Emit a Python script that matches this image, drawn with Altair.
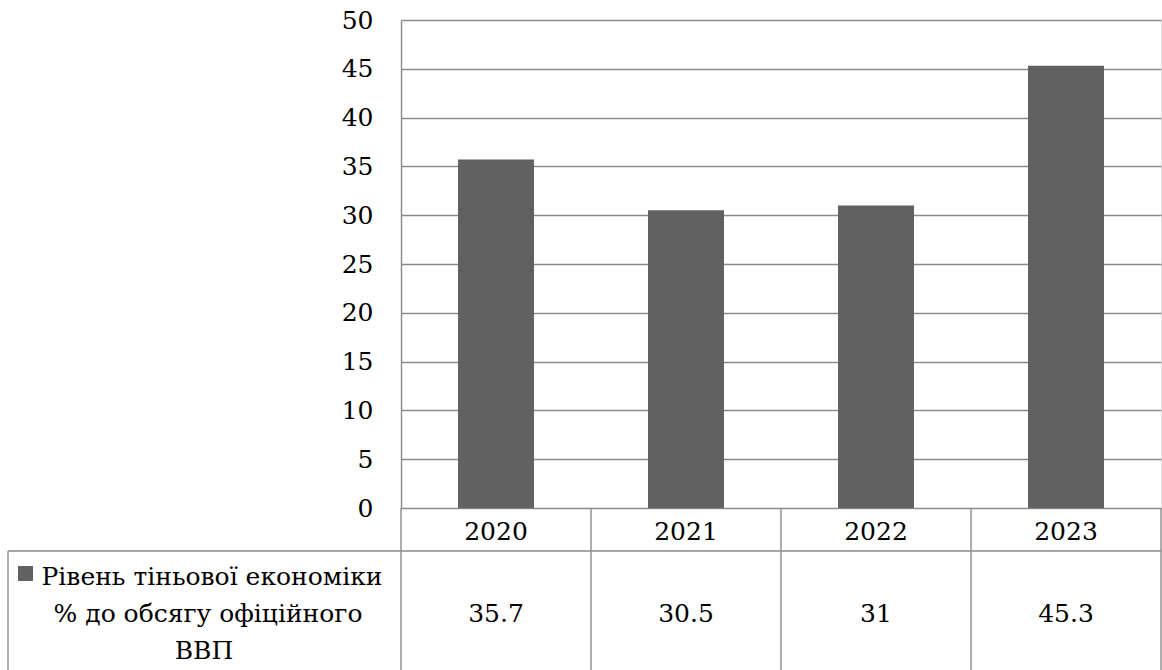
import altair as alt
import pandas as pd

years = ["2020", "2021", "2022", "2023"]
values = [35.7, 30.5, 31, 45.3]
value_labels = ["35.7", "30.5", "31", "45.3"]
series_lines = ["Рівень тіньової економіки", "% до обсягу офіційного", "ВВП"]
y_ticks = list(range(0, 51, 5))

df = pd.DataFrame({"year": years, "value": values, "label": value_labels})

FONT = "DejaVu Serif"
FS = 25
FS_LEG = 25
LINE = "#8a8a8a"
LW = 1.4
BAR = "#616161"

W, H = 760, 488
x_enc = alt.X("year:N", sort=years, scale=alt.Scale(paddingInner=0, paddingOuter=0), axis=None)

base = alt.Chart(df)

bars = base.mark_bar(color=BAR, width=alt.RelativeBandSize(0.4)).encode(
    x=x_enc,
    y=alt.Y("value:Q", scale=alt.Scale(domain=[0, 50]),
            axis=alt.Axis(values=y_ticks, grid=True, gridColor=LINE, gridWidth=LW,
                          domainColor=LINE, domainWidth=LW, ticks=False,
                          labelFont=FONT, labelFontSize=FS, labelColor="black",
                          labelPadding=28, title=None)),
)

header_text = base.mark_text(font=FONT, fontSize=FS, color="black", baseline="alphabetic").encode(
    x=x_enc, y=alt.value(540 - 20), text="year:N")
value_text = base.mark_text(font=FONT, fontSize=FS, color="black", baseline="alphabetic").encode(
    x=x_enc, y=alt.value(622 - 20), text="label:N")

def hrule(x1, x2, y):
    return alt.Chart(df.head(1)).mark_rule(color=LINE, strokeWidth=LW).encode(
        x=alt.value(x1), x2=alt.value(x2), y=alt.value(y))

def vrule(x, y1, y2):
    return alt.Chart(df.head(1)).mark_rule(color=LINE, strokeWidth=LW).encode(
        x=alt.value(x), y=alt.value(y1), y2=alt.value(y2))

rules = [hrule(-393, W, 531), vrule(-393, 531, 660)]
for i in range(len(years) + 1):
    rules.append(vrule(i * W / len(years), H, 660))

legend_sq = alt.Chart(df.head(1)).mark_rect(color=BAR).encode(
    x=alt.value(18 - 401), x2=alt.value(33 - 401), y=alt.value(566 - 20), y2=alt.value(581 - 20))

leg_df = pd.DataFrame({"t": series_lines, "i": [0, 1, 2]})
leg_layers = []
centers = [212 - 401, 208 - 401, 204 - 401]
baselines = [585 - 20, 622 - 20, 659 - 20]
for k, line in enumerate(series_lines):
    leg_layers.append(
        alt.Chart(leg_df[leg_df.i == k]).mark_text(font=FONT, fontSize=FS_LEG, color="black",
                                                  baseline="alphabetic", align="center").encode(
            x=alt.value(centers[k]), y=alt.value(baselines[k]), text="t:N"))

chart = alt.layer(bars, *rules, header_text, value_text, legend_sq, *leg_layers).properties(
    width=W, height=H,
    autosize=alt.AutoSizeParams(type="none"),
    padding={"left": 401, "top": 20, "right": 1, "bottom": 162},
).configure_view(strokeWidth=0).configure(background="white")

chart.save("out.html", embed_options={"renderer": "svg", "actions": False})
